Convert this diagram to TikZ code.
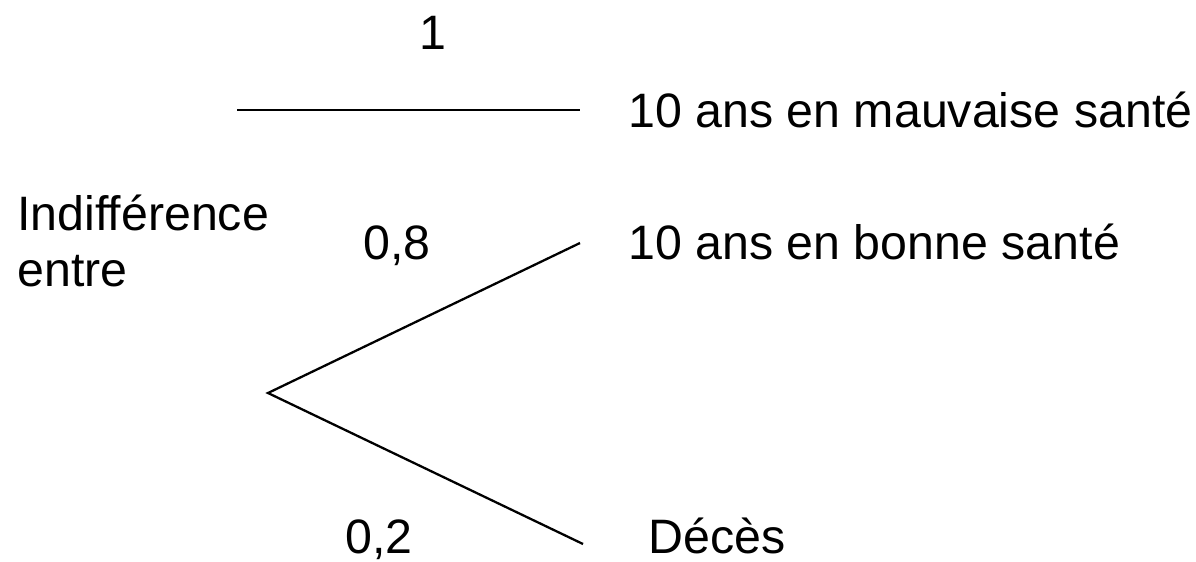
\documentclass[tikz,border=0pt]{standalone}
\usepackage{fontspec}
\setmainfont{Liberation Sans}
\usetikzlibrary{positioning}

\tikzset{
  label text/.style={inner sep=0pt, font=\fontsize{27.5}{31.5}\selectfont},
  branch/.style={draw=black, line width=1.3pt}
}

\begin{document}
\begin{tikzpicture}[x=0.02cm, y=-0.02cm]
    \useasboundingbox (0,0) rectangle (1196,561);

    % Certain outcome
    \coordinate (certstart) at (237,110);
    \coordinate (certend) at (580,110);
    \draw[branch] (certstart) -- (certend);
    \node[label text, anchor=base] (pone) at (433,50) {1};
    \node[label text, anchor=base west] (bad) at (628,127) {10 ans en mauvaise santé};

    % Lottery
    \node[label text, anchor=base west, align=left] (indiff) at (17,286) {Indifférence\\entre};
    \coordinate (root) at (268,393);
    \coordinate (goodend) at (580,243);
    \coordinate (deathend) at (583,544);
    \draw[branch] (goodend) -- (root) -- (deathend);
    \node[label text, anchor=base] (pgood) at (397,259) {0,8};
    \node[label text, anchor=base west] (good) at (628,259) {10 ans en bonne santé};
    \node[label text, anchor=base] (pdeath) at (379,553) {0,2};
    \node[label text, anchor=base west] (death) at (648,553) {Décès};
  \end{tikzpicture}
\end{document}
